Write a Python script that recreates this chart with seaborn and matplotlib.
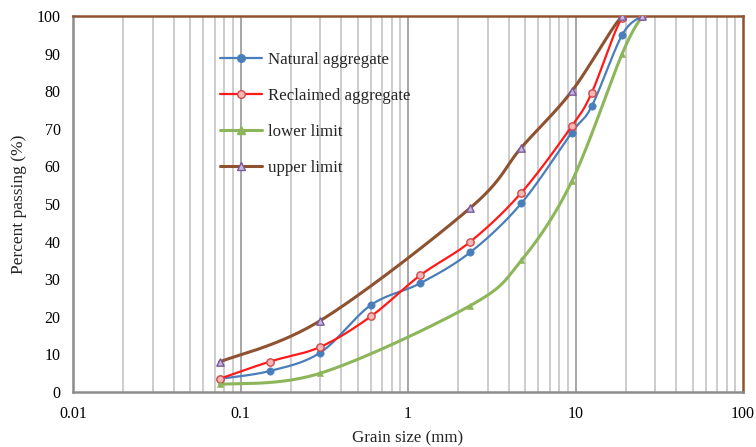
import numpy as np
import pandas as pd
import matplotlib
matplotlib.use("Agg")
import matplotlib.pyplot as plt
import seaborn as sns
from matplotlib.ticker import FixedLocator, NullFormatter

# ---- data ----
sieve_nat = [0.075, 0.15, 0.3, 0.6, 1.18, 2.36, 4.75, 9.5, 12.5, 19, 25]
natural = [3.5, 5.6, 10.5, 23.1, 28.9, 37.2, 50.2, 69.0, 76.0, 95.0, 100]
reclaimed = [3.5, 8.1, 12.0, 20.1, 31.0, 40.0, 53.0, 70.7, 79.6, 99.6, 100]
sieve_lim = [0.075, 0.3, 2.36, 4.75, 9.5, 19, 25]
lower = [2.0, 5.0, 23.0, 35.0, 56.0, 90.0, 100]
upper = [8.0, 19.0, 49.0, 65.0, 80.0, 100, 100]

x_ticks = [0.01, 0.1, 1, 10, 100]
x_tick_labels = ["0.01", "0.1", "1", "10", "100"]
y_ticks = [0, 10, 20, 30, 40, 50, 60, 70, 80, 90, 100]


def smooth(xs, ys, n=30):
    """Catmull-Rom smoothing in (log10 x, y) space, like Excel's smoothed line."""
    lx = np.log10(np.asarray(xs, float))
    y = np.asarray(ys, float)
    P = np.column_stack([lx, y])
    P = np.vstack([P[0], P, P[-1]])
    out = []
    for i in range(1, len(P) - 2):
        p0, p1, p2, p3 = P[i - 1], P[i], P[i + 1], P[i + 2]
        c1 = p1 + (p2 - p0) / 6.0
        c2 = p2 - (p3 - p1) / 6.0
        t = np.linspace(0, 1, n, endpoint=(i == len(P) - 3))[:, None]
        b = ((1 - t) ** 3) * p1 + 3 * ((1 - t) ** 2) * t * c1 + 3 * (1 - t) * t ** 2 * c2 + t ** 3 * p2
        out.append(b)
    out = np.vstack(out)
    return 10 ** out[:, 0], out[:, 1]


sns.set_style("white")
plt.rcParams['font.family'] = ['Liberation Serif', 'DejaVu Serif']

fig = plt.figure(figsize=(7.56, 4.47), dpi=100)
ax = fig.add_axes([73 / 756, 1 - 392 / 447, (743 - 73) / 756, (392 - 16) / 447])
ax.set_xscale("log")
ax.set_xlim(0.01, 100)
ax.set_ylim(0, 100)

# vertical gridlines
minor = [m * 10.0 ** e for e in range(-2, 2) for m in range(2, 10)]
for v in minor:
    ax.axvline(v, color="#BEBEBE", lw=1.1, zorder=0)
for v in x_ticks[1:-1]:
    ax.axvline(v, color="#8E8E8E", lw=1.1, zorder=0)

series = [
    ("Natural aggregate", sieve_nat, natural, "#4A7EBB", 1.6, dict(marker="o", s=28, facecolor="#4A7EBB", edgecolor="#4A7EBB")),
    ("Reclaimed aggregate", sieve_nat, reclaimed, "#FF1A1A", 1.6, dict(marker="o", s=28, facecolor="#F4B6B6", edgecolor="#D04848", linewidth=1.0)),
    ("lower limit", sieve_lim, lower, "#8DB65A", 2.2, dict(marker="^", s=20, facecolor="#8DB65A", edgecolor="#8DB65A")),
    ("upper limit", sieve_lim, upper, "#8E5230", 2.2, dict(marker="^", s=28, facecolor="#C8B8DC", edgecolor="#7A5A9E", linewidth=1.0)),
]

handles = []
for name, xs, ys, col, lw, mk in series:
    sx, sy = smooth(xs, ys)
    df = pd.DataFrame({"x": sx, "y": sy})
    sns.lineplot(data=df, x="x", y="y", ax=ax, color=col, lw=lw, sort=False,
                 estimator=None, zorder=3)
    pts = pd.DataFrame({"x": xs, "y": ys})
    sns.scatterplot(data=pts, x="x", y="y", ax=ax, zorder=4, **mk)
    h = matplotlib.lines.Line2D([], [], color=col, lw=lw, marker=mk["marker"],
                                markersize=5.5, markerfacecolor=mk["facecolor"],
                                markeredgecolor=mk["edgecolor"])
    handles.append(h)

ax.legend(handles, [s[0] for s in series], loc="upper left",
          bbox_to_anchor=(0.196, 0.946), frameon=False, fontsize=12.2,
          handlelength=2.5, labelspacing=1.18, handletextpad=0.35)

ax.xaxis.set_major_locator(FixedLocator(x_ticks))
ax.set_xticklabels(x_tick_labels)
ax.xaxis.set_minor_formatter(NullFormatter())
ax.set_yticks(y_ticks)
ax.tick_params(axis="both", which="both", length=0, labelsize=11.5, colors="black")
ax.tick_params(axis="x", pad=10)
ax.tick_params(axis="y", pad=9)

for side in ["left", "bottom"]:
    ax.spines[side].set_color("#8C8C8C")
    ax.spines[side].set_linewidth(1.8)
for side in ["top", "right"]:
    ax.spines[side].set_color("#8E5230")
    ax.spines[side].set_linewidth(1.8)

ax.set_xlabel("Grain size (mm)", fontsize=12.2, labelpad=6)
ax.set_ylabel("Percent passing (%)", fontsize=12.5, labelpad=6.5)

fig.savefig("out.png", dpi=100)
